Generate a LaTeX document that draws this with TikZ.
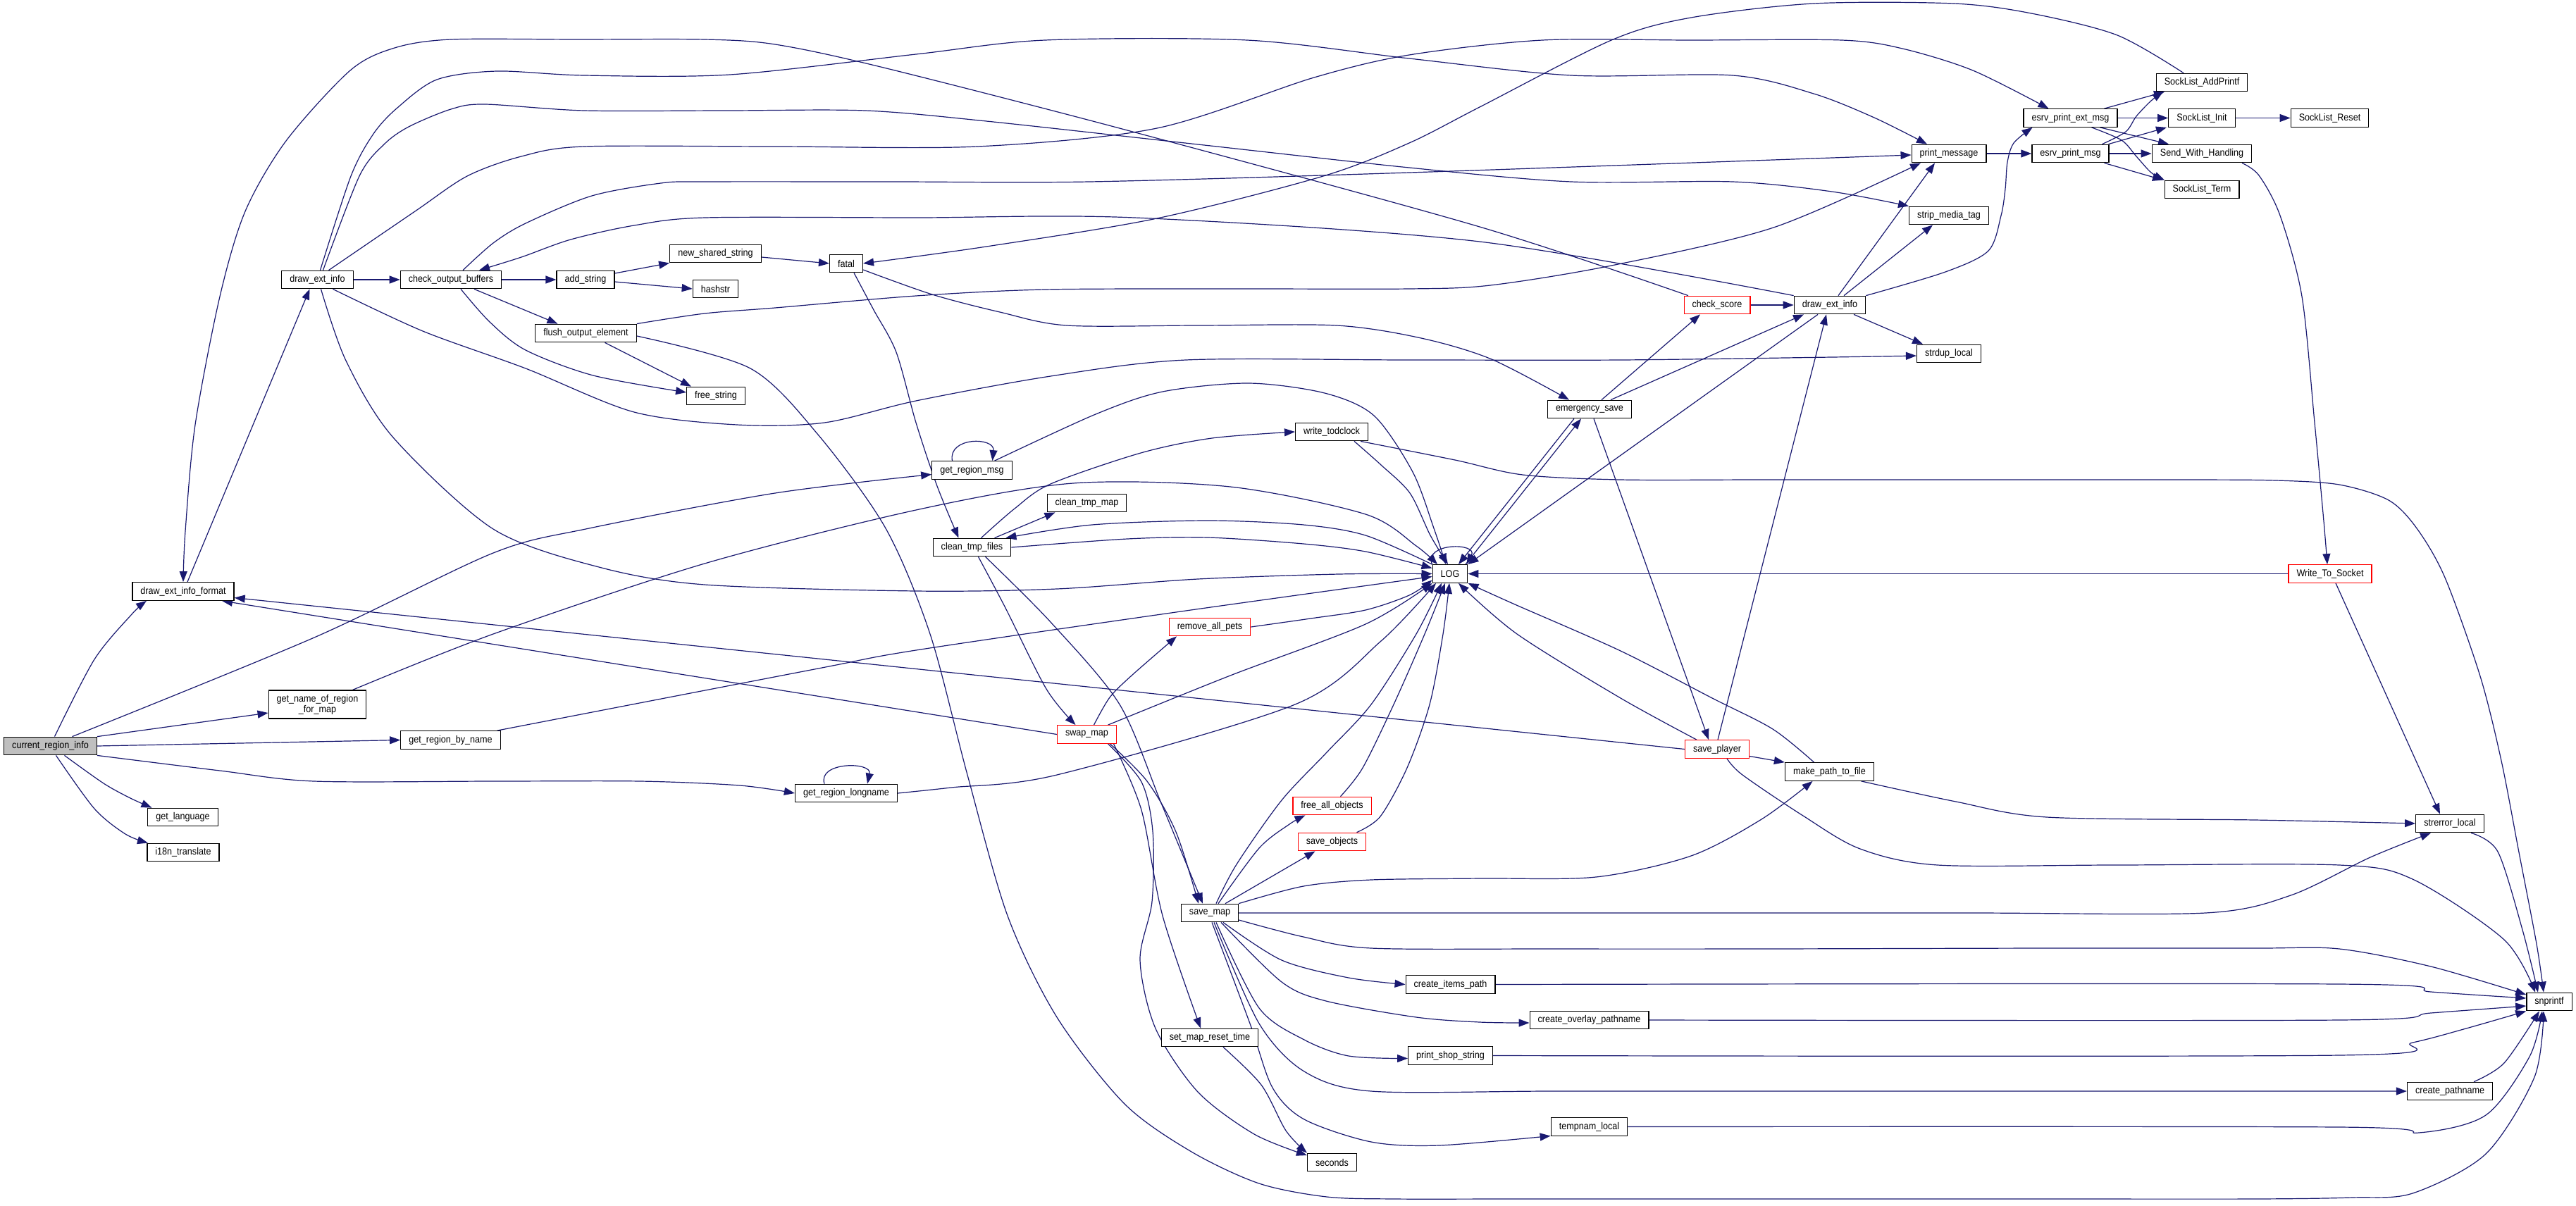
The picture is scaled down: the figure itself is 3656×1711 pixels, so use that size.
\documentclass[tikz,border=0pt]{standalone}
\usepackage{fontspec}
\setmainfont{Liberation Sans}[FakeStretch=0.9]
\usetikzlibrary{arrows.meta}
\definecolor{edgec}{RGB}{25,25,112}
\definecolor{graybg}{RGB}{191,191,191}
\newcommand\fnfont{\fontsize{14}{15}\selectfont}
\pgfdeclarelayer{bglayer}
\pgfdeclarelayer{edgelayer}
\pgfsetlayers{bglayer,edgelayer,main}
\tikzset{
  fn/.style={draw=black, line width=1.3pt, fill=white, rectangle, inner xsep=11.5pt, inner ysep=0pt, minimum height=25.5pt, font=\fnfont},
  fnred/.style={fn, draw=red},
  fngray/.style={fn, fill=graybg},
  edg/.style={draw=edgec, line width=1.2pt, -{Triangle[length=15pt,width=11pt]}},
  sm/.style={smooth, tension=0.5}
}
\begin{document}
\begin{tikzpicture}[x=1pt,y=-1pt]
\begin{pgfonlayer}{bglayer}
\fill[white] (0,0) rectangle (3656,1711);
\end{pgfonlayer}
\useasboundingbox (0,0) rectangle (3656,1711);
% nodes
\node[fngray] (cri) at (71.5,1059) {current\_region\_info};
\node[fn] (deif) at (260,839.5) {draw\_ext\_info\_format};
\node[fn] (deiL) at (450.5,397) {draw\_ext\_info};
\node[fn] (cob) at (640,397) {check\_output\_buffers};
\node[fn] (adds) at (831,397) {add\_string};
\node[fn] (nss) at (1015.5,360) {new\_shared\_string};
\node[fn] (hashstr) at (1015.5,410) {hashstr};
\node[fn] (fatal) at (1201,374) {fatal};
\node[fn] (foe) at (831.5,473) {flush\_output\_element};
\node[fn] (frees) at (1016,562) {free\_string};
\node[fn, align=center, minimum height=40pt] (gnrm) at (450.5,1000) {get\_name\_of\_region\\\_for\_map};
\node[fn] (grbn) at (639.5,1050.5) {get\_region\_by\_name};
\node[fn] (grl) at (1201,1126) {get\_region\_longname};
\node[fn] (glang) at (259.5,1160) {get\_language};
\node[fn] (i18n) at (260,1210) {i18n\_translate};
\node[fn] (grm) at (1379.5,667.5) {get\_region\_msg};
\node[fn] (ctf) at (1379.5,777) {clean\_tmp\_files};
\node[fn] (ctm) at (1542.5,714) {clean\_tmp\_map};
\node[fn] (wtc) at (1890,613) {write\_todclock};
\node[fn] (LOG) at (2058,814.5) {LOG};
\node[fnred] (rap) at (1717,890) {remove\_all\_pets};
\node[fnred] (swap) at (1542.5,1042.5) {swap\_map};
\node[fn] (es) at (2256,581) {emergency\_save};
\node[fnred] (cs) at (2437,433) {check\_score};
\node[fn] (deiR) at (2597,433) {draw\_ext\_info};
\node[fn] (pm) at (2766,218) {print\_message};
\node[fn] (smt) at (2766,306) {strip\_media\_tag};
\node[fn] (sdl) at (2766,502) {strdup\_local};
\node[fn] (epem) at (2938.5,167.5) {esrv\_print\_ext\_msg};
\node[fn] (epm) at (2938.5,218) {esrv\_print\_msg};
\node[fn] (slap) at (3125,117) {SockList\_AddPrintf};
\node[fn] (sli) at (3125,167.5) {SockList\_Init};
\node[fn] (slr) at (3306.5,167.5) {SockList\_Reset};
\node[fn] (swh) at (3125,218) {Send\_With\_Handling};
\node[fn] (slt) at (3125,269) {SockList\_Term};
\node[fnred] (wts) at (3307,814.5) {Write\_To\_Socket};
\node[fnred] (sp) at (2437,1063.5) {save\_player};
\node[fn] (mptf) at (2596.5,1095.5) {make\_path\_to\_file};
\node[fn] (strerr) at (3477,1169) {strerror\_local};
\node[fn] (snp) at (3618,1422) {snprintf};
\node[fnred] (fao) at (1890.5,1144) {free\_all\_objects};
\node[fnred] (so) at (1890.5,1195) {save\_objects};
\node[fn] (smap) at (1717,1296) {save\_map};
\node[fn] (cip) at (2058.5,1397.5) {create\_items\_path};
\node[fn] (cop) at (2255.5,1448) {create\_overlay\_pathname};
\node[fn] (smrt) at (1717,1473) {set\_map\_reset\_time};
\node[fn] (pss) at (2058.5,1498.5) {print\_shop\_string};
\node[fn] (cpn) at (3477,1549) {create\_pathname};
\node[fn] (tnl) at (2255.5,1599.5) {tempnam\_local};
\node[fn] (sec) at (1890.5,1650) {seconds};

\begin{pgfonlayer}{edgelayer}
% current_region_info
\draw[edg] plot[sm] coordinates {([xshift=6pt]cri.north) (134,936) (187,872) ([xshift=-52pt]deif.south)};
\draw[edg] plot[sm] coordinates {([xshift=31pt]cri.north) (446,905) (700,785) (836,750) (1100,700) ([yshift=-6pt]grm.west)};
\draw[edg] (cri.north east) -- ([yshift=-12pt]gnrm.west);
\draw[edg] (cri.east) -- (grbn.west);
\draw[edg] plot[sm] coordinates {(cri.south east) (312,1094) (446,1109) (700,1109) (909,1109) (1050,1115) (grl.west)};
\draw[edg] plot[sm] coordinates {([xshift=20pt]cri.south) (147,1112) (185,1133) ([xshift=-44pt]glang.north)};
\draw[edg] plot[sm] coordinates {([xshift=8pt]cri.south) (134,1148) (178,1184) ([xshift=-50pt]i18n.north)};
% draw_ext_info_format
\draw[edg] ([xshift=6pt]deif.north) -- ([xshift=-11pt]deiL.south);
\draw[edg] plot[sm] coordinates {([xshift=-41pt]cs.north) (2100,322) (1600,185) (1250,95) (1100,63) (1000,56) (820,56) (640,56) (560,68) (497,100) (406,200) (348,300) (312,421) (277,603) (263,754) (deif.north)};
\draw[edg] (swap.west) -- ([xshift=55pt]deif.south);
\draw[edg] (sp.west) -- ([yshift=-9pt]deif.east);
% draw_ext_info (left)
\draw[edg] (deiL.east) -- (cob.west);
\draw[edg] plot[sm] coordinates {([xshift=4pt]deiL.north) (498,250) (530,190) (564,153) (620,113) (705,101) (829,107) (1036,106) (1300,77) (1483,57) (1770,57) (2000,83) (2230,107) (2459,107) (2574,133) (2660,167) ([xshift=-31pt]pm.north)};
\draw[edg] plot[sm] coordinates {([xshift=8pt]deiL.north) (510,250) (545,205) (580,180) (640,155) (688,148) (829,157) (1030,157) (1228,157) (1400,172) (1700,205) (2000,238) (2230,258) (2459,258) (2600,272) (smt.north west)};
\draw[edg] plot[sm] coordinates {([xshift=16pt]deiL.north) (589,300) (663,250) (740,222) (829,208) (1100,208) (1387,208) (1642,182) (1865,110) (2000,78) (2189,57) (2400,57) (2614,57) (2700,69) (2800,100) ([xshift=-31pt]epem.north)};
\draw[edg] plot[sm] coordinates {([xshift=22pt]deiL.south) (600,470) (746,523) (900,585) (1046,603) (1170,600) (1300,569) (1491,534) (1683,511) (2000,511) (2300,511) (2600,507) ([yshift=-3pt]sdl.west)};
\draw[edg] plot[sm] coordinates {([xshift=5pt]deiL.south) (491,512) (558,621) (700,751) (850,805) (1000,830) (1300,839) (1500,836) (1700,822) (1900,815) (LOG.west)};
% check_output_buffers
\draw[edg] plot[sm] coordinates {([xshift=17pt]cob.north) (700,345) (746,317) (840,278) (938,260) (1000,258) (1270,258) (1546,258) (2000,245) ([yshift=-2pt]pm.west)};
\draw[edg] plot[sm] coordinates {(deiR.north west) (2100,343) (1610,309) (1300,309) (1001,309) (900,320) (810,340) (740,365) ([xshift=40pt]cob.north)};
\draw[edg] (cob.east) -- (adds.west);
\draw[edg] ([yshift=9pt]adds.east) -- (nss.south west);
\draw[edg] ([yshift=-3pt]adds.east) -- (hashstr.west);
\draw[edg] ([yshift=-5pt]nss.east) -- (fatal.west);
\draw[edg] ([xshift=33pt]cob.south) -- ([xshift=-40pt]foe.north);
\draw[edg] plot[sm] coordinates {([xshift=14pt]cob.south) (695,457) (746,497) (842,533) ([yshift=5pt]frees.west)};
\draw[edg] ([xshift=27pt]foe.south) -- ([xshift=-35pt]frees.north);
\draw[edg] plot[sm] coordinates {(foe.north east) (1000,445) (1100,437) (1300,420) (1483,411) (1750,410) (2000,410) (2115,405) (2287,377) (2517,323) ([xshift=-40pt]pm.south)};
\draw[edg] plot[sm] coordinates {([yshift=-4pt]foe.east) (1065,523) (1161,617) (1257,750) (1320,900) (1373,1100) (1430,1300) (1500,1444) (1596,1567) (1691,1635) (1787,1680) (1883,1699) (1980,1702) (2150,1702) (2500,1702) (2900,1702) (3200,1702) (3338,1700) (3424,1694) (3528,1638) (3597,1529) ([xshift=-8pt]snp.south)};
% fatal
\draw[edg] plot[sm] coordinates {([yshift=-9pt]fatal.east) (1323,418) (1419,443) (1514,462) (1700,462) (1897,462) (2017,480) (2117,510) ([xshift=-29pt]es.north)};
\draw[edg] plot[sm] coordinates {([xshift=11pt]fatal.south) (1240,440) (1272,500) (1300,600) (1330,690) ([xshift=-19pt]ctf.north)};
\draw[edg] plot[sm] coordinates {([xshift=-26pt]slap.north) (3005,50) (2883,19) (2773,5) (2574,5) (2400,25) (2287,57) (2100,152) (2000,203) (1878,250) (1642,310) (1400,350) (fatal.east)};
% clean_tmp_files
\draw[edg] ([xshift=32pt]ctf.north) -- ([xshift=-45pt]ctm.south);
\draw[edg] plot[sm] coordinates {([xshift=13pt]ctf.north) (1440,722) (1491,687) (1619,643) (1720,622) (wtc.west)};
\draw[edg] plot[sm] coordinates {(ctf.east) (1600,765) (1714,763) (1850,772) (1938,783) ([yshift=8pt]LOG.west)};
\draw[edg] plot[sm] coordinates {(LOG.north west) (1938,760) (1850,745) (1714,739) (1550,745) ([xshift=-8pt]ctf.north east)};
\draw[edg] plot[sm] coordinates {([xshift=9pt]ctf.south) (1427,863) (1485,978) ([xshift=-16pt]swap.north)};
\draw[edg] plot[sm] coordinates {([xshift=19pt]ctf.south) (1491,883) (1589,1000) (1648,1140) ([xshift=-10pt]smap.north)};
% swap_map
\draw[edg] plot[sm] coordinates {([xshift=33pt]swap.south) (1628,1109) (1669,1181) ([xshift=-16pt]smap.north)};
\draw[edg] plot[sm] coordinates {([xshift=38pt]swap.south) (1620,1150) (1650,1300) ([xshift=-13pt]smrt.north)};
\draw[edg] plot[sm] coordinates {([xshift=30pt]swap.south) (1620,1110) (1636,1180) (1635,1280) (1618,1363) (1640,1460) (1700,1550) (1780,1610) ([yshift=10pt]sec.west)};
\draw[edg] plot[sm] coordinates {([xshift=19pt]smrt.south) (1790,1540) (1825,1605) (sec.north west)};
\draw[edg] plot[sm] coordinates {([xshift=10pt]swap.north) (1575,990) (1606,959) ([xshift=-47pt]rap.south)};
\draw[edg] plot[sm] coordinates {([xshift=30pt]swap.north) (1746,959) (1938,886) (LOG.south west)};
% get_region_*
\draw[edg] ([xshift=-28pt]grm.north) .. controls (1345,620) and (1412,620) .. ([xshift=29pt]grm.north);
\draw[edg] plot[sm] coordinates {([xshift=32pt]grm.north) (1555,588) (1650,556) (1772,544) (1880,558) (1950,590) (2005,670) (2035,750) ([xshift=-6pt]LOG.north)};
\draw[edg] plot[sm] coordinates {([xshift=50pt]gnrm.north) (700,900) (1000,800) (1300,724) (1523,686) (1746,691) (1938,730) (2010,775) ([xshift=-18pt]LOG.north)};
\draw[edg] plot[sm] coordinates {([xshift=66pt]grbn.north) (1156,950) (1300,923) (1683,867) ([yshift=-4pt]LOG.west)};
\draw[edg] ([xshift=-31pt]grl.north) .. controls (1160,1081) and (1238,1081) .. ([xshift=30pt]grl.north);
\draw[edg] plot[sm] coordinates {(grl.east) (1350,1118) (1500,1100) (1838,1000) (1960,910) ([xshift=-20pt]LOG.south)};
% write_todclock
\draw[edg] plot[sm] coordinates {([xshift=32pt]wtc.south) (1960,660) (2001,700) (2030,760) ([xshift=-3pt]LOG.north)};
\draw[edg] plot[sm] coordinates {([xshift=41pt]wtc.south) (2065,653) (2161,674) (2300,681) (2500,681) (2800,681) (3100,681) (3230,682) (3320,688) (3390,710) (3430,750) (3470,820) (3520,960) (3550,1080) (3575,1210) (3600,1340) ([xshift=-8pt]snp.north)};
% LOG and emergency_save
\draw[edg] (LOG.north west) .. controls (2020,770) and (2098,770) .. ([xshift=-2pt]LOG.north east);
\draw[edg] ([xshift=22pt]LOG.north) -- ([xshift=-12pt]es.south);
\draw[edg] ([xshift=-22pt]es.south) -- ([xshift=12pt]LOG.north);
\draw[edg] ([xshift=-17pt]deiR.south) -- (LOG.north east);
\draw[edg] (wts.west) -- (LOG.east);
\draw[edg] plot[sm] coordinates {([xshift=-22pt]mptf.north) (2516,1035) (2430,991) (2300,924) (2150,858) (LOG.south east)};
\draw[edg] plot[sm] coordinates {([xshift=-29pt]sp.north) (2300,991) (2153,900) ([xshift=12pt]LOG.south)};
\draw[edg] plot[sm] coordinates {([xshift=12pt]fao.north) (1934,1090) (1978,1000) (2022,900) ([xshift=-7pt]LOG.south)};
\draw[edg] plot[sm] coordinates {([xshift=35pt]so.north) (1959,1159) (1997,1090) (2029,1000) (2048,900) ([xshift=-1pt]LOG.south)};
\draw[edg] plot[sm] coordinates {([xshift=9pt]smap.north) (1755,1227) (1819,1136) (1883,1068) (1946,1000) (2010,900) ([xshift=-12pt]LOG.south)};
\draw[edg] plot[sm] coordinates {(rap.east) (1860,878) (1938,866) (2000,845) ([yshift=-9pt]LOG.west)};
\draw[edg] ([xshift=17pt]es.north) -- ([xshift=-24pt]cs.south);
\draw[edg] ([xshift=30pt]es.north) -- ([xshift=-37pt]deiR.south);
\draw[edg] ([xshift=6pt]es.south) -- ([xshift=-12pt]sp.north);
% save_map
\draw[edg] plot[sm] coordinates {([xshift=12pt]smap.north) (1787,1204) (1830,1170) ([xshift=-38pt]fao.south)};
\draw[edg] ([xshift=22pt]smap.north) -- ([xshift=-24pt]so.south);
\draw[edg] plot[sm] coordinates {(smap.north east) (1850,1258) (1946,1249) (2100,1247) (2265,1245) (2400,1215) (2500,1163) ([xshift=-24pt]mptf.south)};
\draw[edg] plot[sm] coordinates {(smap.east) (2000,1296) (2400,1296) (2800,1296) (3130,1296) (3251,1271) (3364,1217) ([xshift=-27pt]strerr.south)};
\draw[edg] plot[sm] coordinates {([yshift=-10pt]smap.east) (1850,1330) (1946,1346) (2200,1347) (2500,1347) (2900,1346) (3200,1346) (3320,1347) (3450,1372) ([yshift=10pt]snp.west)};
\draw[edg] plot[sm] coordinates {([xshift=19pt]smap.south) (1819,1363) (1914,1388) (cip.west)};
\draw[edg] plot[sm] coordinates {([xshift=16pt]smap.south) (1819,1394) (1882,1421) (2010,1444) (2100,1451) ([yshift=-4pt]cop.west)};
\draw[edg] plot[sm] coordinates {([xshift=9pt]smap.south) (1787,1431) (1851,1476) (1914,1499) ([yshift=-4pt]pss.west)};
\draw[edg] plot[sm] coordinates {([xshift=6pt]smap.south) (1787,1453) (1851,1521) (1946,1549) (2200,1549) (2500,1549) (cpn.west)};
\draw[edg] plot[sm] coordinates {([xshift=3pt]smap.south) (1774,1453) (1806,1544) (1851,1589) (1946,1621) (2042,1626) ([yshift=-13pt]tnl.west)};
% to snprintf
\draw[edg] plot[sm] coordinates {(cip.east) (3320,1397) (3450,1408) ([yshift=5pt]snp.west)};
\draw[edg] plot[sm] coordinates {(cop.east) (3320,1448) (3450,1438) ([yshift=-6pt]snp.west)};
\draw[edg] plot[sm] coordinates {(pss.east) (3320,1498) (3424,1480) (3500,1460) (snp.south west)};
\draw[edg] plot[sm] coordinates {([xshift=34pt]cpn.north) (3554,1509) ([xshift=-14pt]snp.south)};
\draw[edg] plot[sm] coordinates {(tnl.east) (3320,1600) (3433,1608) (3528,1583) (3590,1500) ([xshift=-10pt]snp.south)};
\draw[edg] plot[sm] coordinates {([xshift=30pt]strerr.south) (3545,1209) (3580,1320) ([xshift=-16pt]snp.north)};
\draw[edg] plot[sm] coordinates {([xshift=14pt]sp.south) (2473,1100) (2559,1158) (2640,1205) (2750,1228) (3000,1228) (3320,1228) (3424,1248) (3554,1334) ([xshift=-20pt]snp.north)};
% save_player and others
\draw[edg] ([yshift=-10pt]sp.east) -- (mptf.north west);
\draw[edg] ([xshift=1pt]sp.north) -- ([xshift=-5pt]deiR.south);
\draw[edg] plot[sm] coordinates {([xshift=45pt]mptf.south) (2776,1138) (2905,1160) (3200,1164) (strerr.west)};
\draw[edg] ([xshift=8pt]wts.south) -- ([xshift=-14pt]strerr.north);
\draw[edg] plot[sm] coordinates {([xshift=57pt]swh.south) (3206,249) (3236,306) (3267,421) (3285,600) (3298,740) ([xshift=-4pt]wts.north)};
% check_score / draw_ext_info (right)
\draw[edg] (cs.east) -- (deiR.west);
\draw[edg] ([xshift=12pt]deiR.north) -- ([xshift=-20pt]pm.south);
\draw[edg] ([xshift=20pt]deiR.north) -- ([xshift=-23pt]smt.south);
\draw[edg] plot[sm] coordinates {(deiR.north east) (2761,386) (2822,356) (2840,306) (2846,268) (2849,230) (2858,203) ([xshift=-54pt]epem.south)};
\draw[edg] ([xshift=34pt]deiR.south) -- ([xshift=-37pt]sdl.north);
% esrv / socklist
\draw[edg] (pm.east) -- (epm.west);
\draw[edg] ([xshift=48pt]epem.north) -- ([xshift=-53pt]slap.south);
\draw[edg] (epem.east) -- (sli.west);
\draw[edg] ([xshift=42pt]epem.south) -- ([xshift=-47pt]swh.north);
\draw[edg] plot[sm] coordinates {([xshift=30pt]epem.south) (3011,199) (3032,222) (3053,245) ([xshift=-53pt]slt.north)};
\draw[edg] plot[sm] coordinates {([xshift=45pt]epm.north) (3017,187) (3032,165) (3053,143) ([xshift=-55pt]slap.south)};
\draw[edg] ([xshift=54pt]epm.north) -- ([xshift=-50pt]sli.south);
\draw[edg] (epm.east) -- (swh.west);
\draw[edg] ([xshift=48pt]epm.south) -- ([xshift=-55pt]slt.north);
\draw[edg] (sli.east) -- (slr.west);
\end{pgfonlayer}
\end{tikzpicture}
\end{document}
